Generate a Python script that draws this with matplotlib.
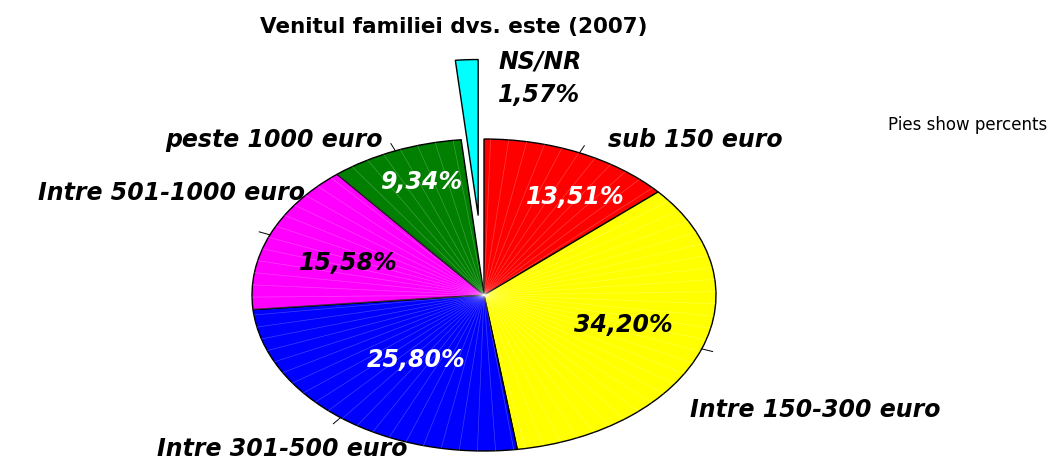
import numpy as np
import matplotlib.pyplot as plt

# data
categories = ['sub 150 euro', 'Intre 150-300 euro', 'Intre 301-500 euro',
              'Intre 501-1000 euro', 'peste 1000 euro', 'NS/NR']
percents = [13.51, 34.20, 25.80, 15.58, 9.34, 1.57]
colors = ['#ff0000', '#ffff00', '#0000ff', '#ff00ff', '#007f00', '#00ffff']
pct_colors = ['white', 'black', 'white', 'black', 'white', 'black']
explode = [0, 0, 0, 0, 0, 0.51]

W, H = 1062, 463
cx, cy = 484, 295      # pie centre, pixels from top-left
rx, ry = 232, 156      # ellipse radii in pixels

fig = plt.figure(figsize=(W / 100, H / 100), dpi=100)
ax = fig.add_axes([0, 0, 1, 1])

wedges, _ = ax.pie(percents, colors=colors, startangle=90, counterclock=False,
                   explode=explode,
                   wedgeprops=dict(edgecolor='black', linewidth=1))
ax.set_aspect('auto')
ax.set_xlim(-cx / rx, (W - cx) / rx)
ax.set_ylim(-(H - cy) / ry, cy / ry)
ax.axis('off')

# faint radial streaks like the original rendering
for w in wedges[:-1]:
    for a in np.arange(w.theta1 + 2, w.theta2, 4.5):
        t = np.deg2rad(a)
        ax.plot([0, np.cos(t)], [0, np.sin(t)], color='white', lw=0.5,
                alpha=0.25, zorder=1.5)

lab = dict(fontsize=17, fontweight='bold', fontstyle='italic')

# percent labels inside the slices (radius, angle shift)
pct_pos = [(0.74, -8), (0.63, 2.6), (0.51, 3.2), (0.62, 3.2), (0.77, -2)]
for i, (r, da) in enumerate(pct_pos):
    w = wedges[i]
    t = np.deg2rad((w.theta1 + w.theta2) / 2 + da)
    ax.text(r * np.cos(t), r * np.sin(t),
            f'{percents[i]:.2f}%'.replace('.', ','),
            color=pct_colors[i], ha='center', va='center', zorder=3, **lab)

# category labels outside
name_pos = [(0.909, 0.994), (1.427, -0.737), (-0.871, -0.99),
            (-1.345, 0.654), (-0.905, 0.994)]
for i, (x, y) in enumerate(name_pos):
    ax.text(x, y, categories[i], ha='center', va='center', zorder=3, **lab)
    t = np.deg2rad((wedges[i].theta1 + wedges[i].theta2) / 2)
    ax.plot([np.cos(t), 1.05 * np.cos(t)], [np.sin(t), 1.05 * np.sin(t)],
            color='black', lw=0.7, zorder=2)

ax.text(0.241, 1.494, categories[5], ha='center', va='center', **lab)
ax.text(0.237, 1.282, f'{percents[5]:.2f}%'.replace('.', ','),
        ha='center', va='center', **lab)

fig.text(0.427, 0.942, 'Venitul familiei dvs. este (2007)', ha='center',
         va='center', fontsize=15.5, fontweight='bold')
fig.text(0.911, 0.73, 'Pies show percents', ha='center', va='center',
         fontsize=12)

fig.savefig('out.png', dpi=100)
